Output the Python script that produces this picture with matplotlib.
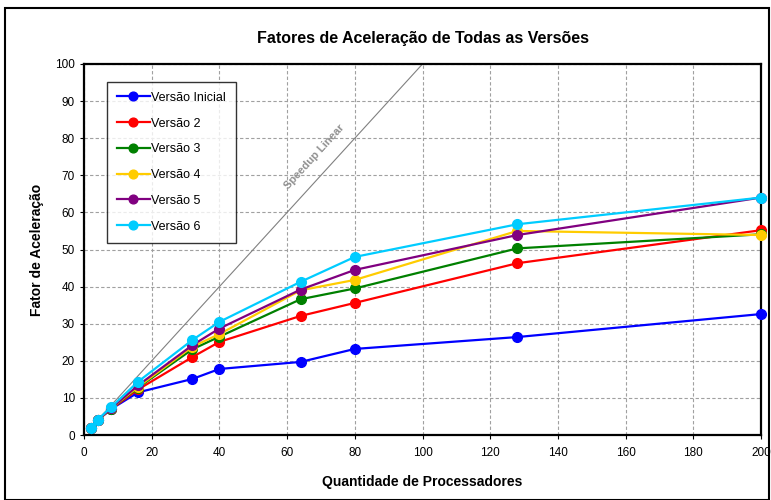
import numpy as np
import matplotlib.pyplot as plt
from matplotlib.patches import Rectangle

plt.rcParams["font.family"] = ["Liberation Sans", "DejaVu Sans"]

# --- Data ---
processadores = [2, 4, 8, 16, 32, 40, 64, 80, 128, 200]

versao_inicial = [2.0, 4.0, 7.0, 11.5, 15.1, 17.8, 19.7, 23.2, 26.4, 32.6]
versao_2 = [2.0, 4.0, 7.0, 12.3, 21.0, 25.1, 32.1, 35.6, 46.3, 55.2]
versao_3 = [2.0, 4.0, 7.1, 12.8, 23.1, 26.5, 36.6, 39.5, 50.3, 54.1]
versao_4 = [2.0, 4.0, 7.2, 13.0, 23.8, 27.2, 39.0, 41.8, 55.0, 53.9]
versao_5 = [2.0, 4.0, 7.2, 13.4, 24.2, 28.7, 39.2, 44.5, 53.9, 64.0]
versao_6 = [2.0, 4.1, 7.5, 14.4, 25.6, 30.5, 41.3, 48.0, 56.8, 64.0]

series = [
    ("Versão Inicial", versao_inicial, "#0000ff"),
    ("Versão 2", versao_2, "#ff0000"),
    ("Versão 3", versao_3, "#008000"),
    ("Versão 4", versao_4, "#ffcc00"),
    ("Versão 5", versao_5, "#800080"),
    ("Versão 6", versao_6, "#00ccff"),
]

linear_x = [2, 100]
linear_y = [2, 100]

# --- Figure ---
fig = plt.figure(figsize=(7.71, 5.0), dpi=100)
ax = fig.add_axes([0.109, 0.13, 0.878, 0.742])

# chart area border
fig.patches.append(Rectangle((0.006, 0.0), 0.992, 0.984, transform=fig.transFigure,
                             fill=False, edgecolor="black", lw=1.5))

ax.plot(linear_x, linear_y, color="#808080", lw=0.8, zorder=2)
ax.text(68, 75, "Speedup Linear", rotation=47.6, color="#909090", fontsize=8,
        fontweight="bold", ha="center", va="center", rotation_mode="anchor")

for name, vals, color in series:
    ax.plot(processadores, vals, color=color, lw=1.6, marker="o", markersize=7,
            label=name, zorder=3, clip_on=False)

ax.set_xlim(0, 200)
ax.set_ylim(0, 100)
ax.set_xticks(np.arange(0, 201, 20))
ax.set_yticks(np.arange(0, 101, 10))
ax.tick_params(labelsize=8.5, length=3, direction="out")
ax.tick_params(axis="x", pad=6)
ax.grid(True, color="#a0a0a0", linestyle=(0, (3, 2)), lw=0.8)
ax.set_axisbelow(True)
for s in ax.spines.values():
    s.set_linewidth(1.6)

ax.set_title("Fatores de Aceleração de Todas as Versões", fontsize=11.5,
             fontweight="bold", pad=15)
ax.set_xlabel("Quantidade de Processadores", fontsize=10, fontweight="bold", labelpad=11)
ax.set_ylabel("Fator de Aceleração", fontsize=10, fontweight="bold", labelpad=8)

leg = ax.legend(loc="upper left", bbox_to_anchor=(0.034, 0.952), fontsize=9,
                frameon=True, fancybox=False, edgecolor="black", labelspacing=1.1,
                handlelength=2.6, handletextpad=0.1, borderpad=0.8, borderaxespad=0,
                markerscale=0.9)
leg.get_frame().set_linewidth(1.0)

fig.savefig("out.png", dpi=100)
